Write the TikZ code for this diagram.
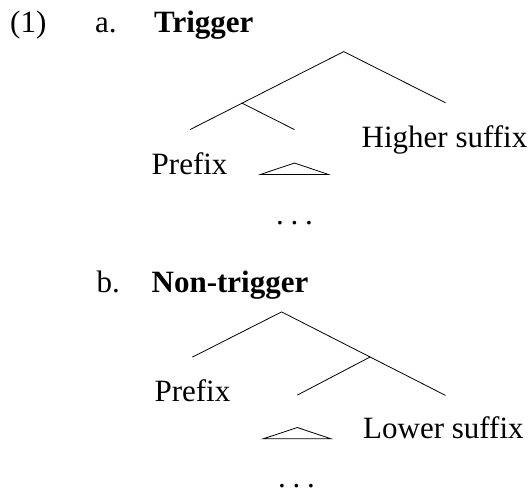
\documentclass[tikz,border=0pt]{standalone}
\usepackage{fontspec}
\setmainfont{Liberation Serif}
\tikzset{
  lbl/.style={anchor=base west, inner sep=0pt, font=\fontsize{31}{36}\selectfont},
  branch/.style={draw=black, line width=0.8pt},
}
\newcommand{\mydots}{\smash{.\kern 6.75pt.\kern 6.75pt.}}
\begin{document}
\begin{tikzpicture}[x=1pt, y=-1pt]
\useasboundingbox (0,0) rectangle (532,491);
% header a
\node[lbl] (ex) at (10,32.5) {(1)};
\node[lbl] (la) at (95,32.5) {a.};
\node[lbl] (ta) at (154,32.5) {\textbf{Trigger}};
% tree a
\coordinate (ra) at (343.7,51.6);
\coordinate (ja) at (241.6,102.9);
\coordinate (rra) at (445.5,102.8);
\coordinate (jla) at (190.0,129.6);
\coordinate (jra) at (294.5,129.6);
\draw[branch] (jla) -- (ra) -- (rra);
\draw[branch] (ja) -- (jra);
\node[lbl] (pa) at (151.5,174) {Prefix};
\node[lbl] (ha) at (361.5,147.5) {Higher suffix};
\coordinate (tapa) at (294.5,163);
\coordinate (tala) at (260.3,174.5);
\coordinate (tara) at (328.5,174.5);
\draw[branch, line join=miter] (tala) -- (tapa) -- (tara) -- cycle;
\node[lbl] (da) at (276,224) {\mydots};
% header b
\node[lbl] (lb) at (96.5,292.5) {b.};
\node[lbl] (tb) at (151.5,292.5) {\textbf{Non-trigger}};
% tree b
\coordinate (rb) at (281.6,311.9);
\coordinate (lfb) at (192.4,357.1);
\coordinate (rrb) at (445.5,395.4);
\coordinate (jb) at (369.9,357.1);
\coordinate (jlb) at (297.3,395.1);
\draw[branch] (lfb) -- (rb) -- (rrb);
\draw[branch] (jb) -- (jlb);
\node[lbl] (pb) at (154.4,401.5) {Prefix};
\node[lbl] (lsb) at (363,438.5) {Lower suffix};
\coordinate (tapb) at (297.3,427.5);
\coordinate (talb) at (263.3,438.8);
\coordinate (tarb) at (331,438.8);
\draw[branch, line join=miter] (talb) -- (tapb) -- (tarb) -- cycle;
\node[lbl] (db) at (278,487.5) {\mydots};
\end{tikzpicture}
\end{document}
